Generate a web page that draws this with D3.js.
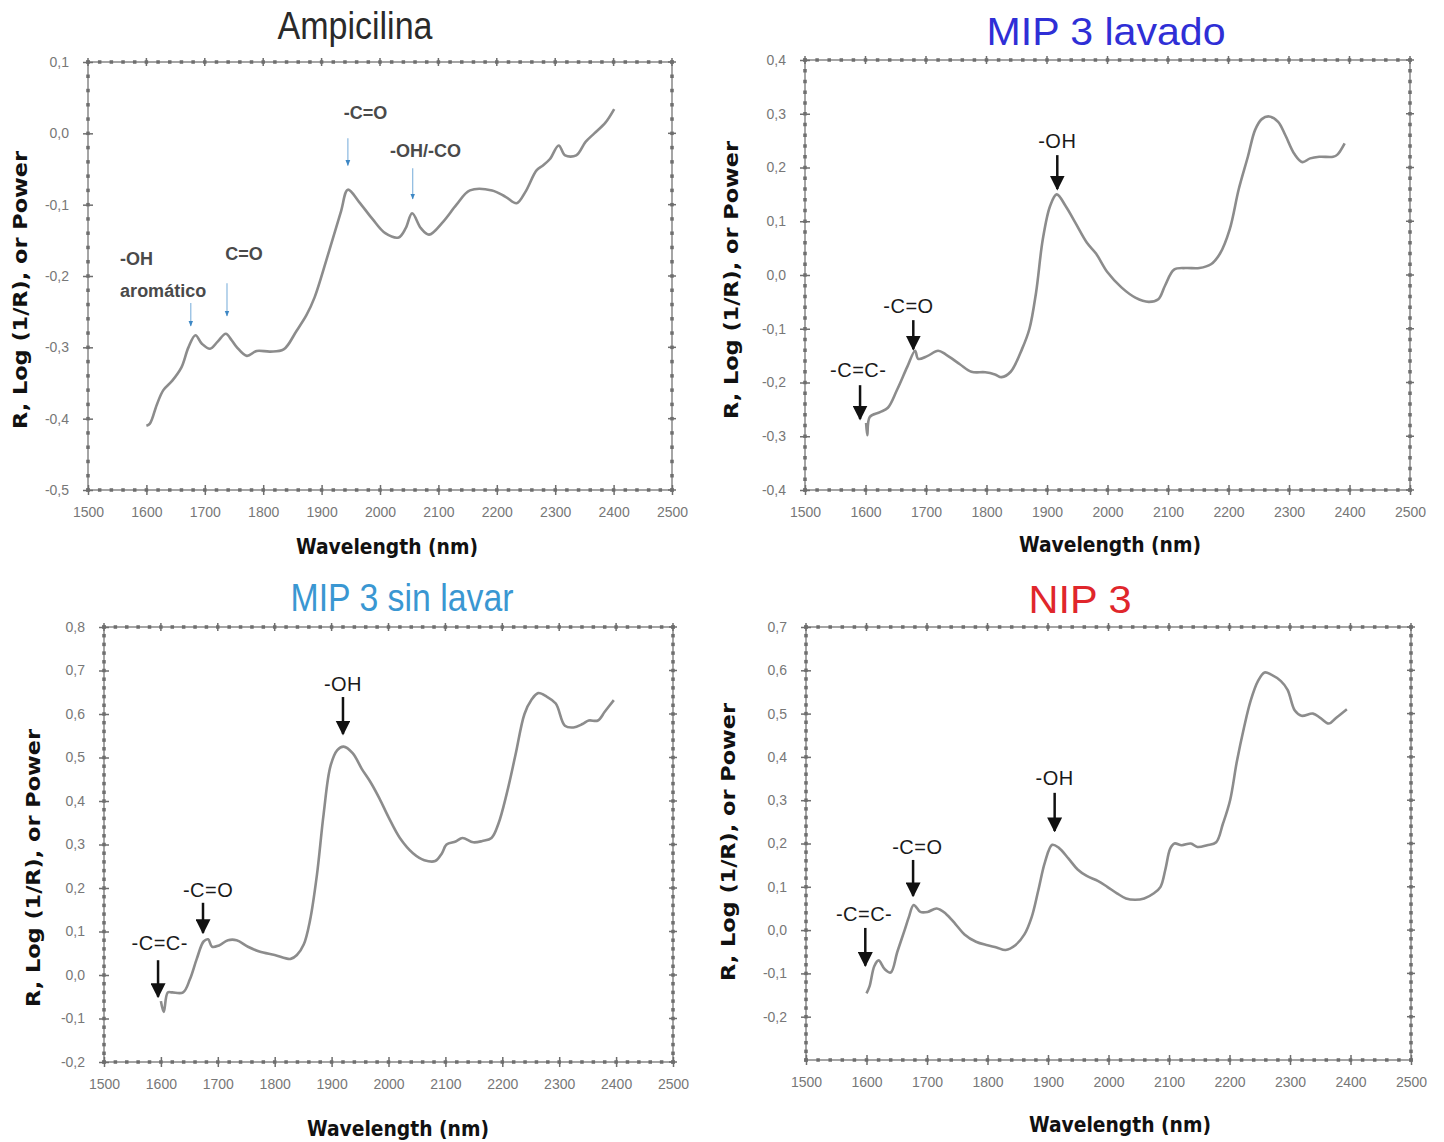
<!DOCTYPE html>
<html>
<head>
<meta charset="utf-8">
<script src="https://cdn.jsdelivr.net/npm/d3@7"></script>
<style>
  body { margin: 0; background: #fff; }
  svg { display: block; }
</style>
</head>
<body>
<svg id="chart"></svg>
<script>
// wavelength ticks shared by the four spectra
const xTicks = d3.range(1500, 2501, 100);

// spectra: [wavelength (nm), value]
const ampicilina = [
  [1600,-0.41],[1606,-0.407],[1618,-0.38],[1629,-0.36],[1644,-0.347],[1660,-0.328],[1672,-0.30],
  [1684,-0.283],[1695,-0.295],[1709,-0.302],[1722,-0.292],[1736,-0.281],[1746,-0.29],[1755,-0.30],
  [1772,-0.312],[1789,-0.305],[1812,-0.306],[1835,-0.303],[1857,-0.277],[1874,-0.255],[1888,-0.23],
  [1911,-0.17],[1933,-0.11],[1945,-0.079],[1964,-0.096],[1987,-0.12],[2009,-0.14],[2032,-0.146],
  [2044,-0.133],[2055,-0.112],[2070,-0.133],[2084,-0.142],[2108,-0.124],[2131,-0.10],[2154,-0.08],
  [2192,-0.08],[2215,-0.089],[2234,-0.098],[2249,-0.082],[2268,-0.052],[2279,-0.045],[2291,-0.036],
  [2306,-0.017],[2317,-0.031],[2336,-0.031],[2352,-0.012],[2367,0.0],[2386,0.015],[2401,0.034]
];
const mip3Lavado = [
  [1601,-0.275],[1603,-0.298],[1607,-0.264],[1624,-0.255],[1637,-0.247],[1652,-0.214],[1669,-0.171],
  [1682,-0.141],[1687,-0.156],[1702,-0.151],[1720,-0.141],[1733,-0.148],[1756,-0.166],[1775,-0.18],
  [1798,-0.181],[1814,-0.185],[1825,-0.19],[1840,-0.18],[1859,-0.137],[1871,-0.10],[1882,-0.032],
  [1893,0.066],[1905,0.128],[1916,0.15],[1931,0.128],[1947,0.097],[1966,0.06],[1981,0.04],
  [2000,0.005],[2023,-0.023],[2046,-0.042],[2068,-0.05],[2084,-0.045],[2095,-0.02],[2110,0.01],
  [2129,0.013],[2152,0.013],[2171,0.02],[2186,0.04],[2202,0.085],[2217,0.16],[2232,0.22],
  [2244,0.27],[2255,0.29],[2267,0.295],[2282,0.285],[2294,0.26],[2309,0.225],[2322,0.21],
  [2335,0.217],[2350,0.22],[2373,0.22],[2380,0.224],[2392,0.245]
];
const mip3SinLavar = [
  [1600,-0.06],[1605,-0.085],[1612,-0.04],[1620,-0.04],[1639,-0.04],[1651,-0.01],[1663,0.037],
  [1675,0.077],[1683,0.082],[1690,0.065],[1702,0.068],[1718,0.08],[1733,0.08],[1753,0.065],
  [1773,0.054],[1800,0.046],[1828,0.037],[1839,0.046],[1851,0.07],[1862,0.125],[1874,0.228],
  [1886,0.37],[1898,0.48],[1910,0.517],[1921,0.525],[1937,0.51],[1953,0.474],[1969,0.442],
  [1984,0.406],[2000,0.363],[2020,0.315],[2043,0.28],[2063,0.264],[2082,0.262],[2094,0.28],
  [2102,0.30],[2118,0.307],[2130,0.315],[2149,0.305],[2165,0.308],[2181,0.315],[2193,0.347],
  [2208,0.418],[2223,0.505],[2239,0.6],[2251,0.632],[2263,0.648],[2278,0.64],[2294,0.624],
  [2310,0.573],[2325,0.569],[2341,0.577],[2352,0.585],[2368,0.585],[2380,0.605],[2396,0.632]
];
const nip3 = [
  [1600,-0.146],[1605,-0.13],[1613,-0.083],[1620,-0.07],[1630,-0.09],[1640,-0.098],[1651,-0.05],
  [1663,0.0],[1670,0.03],[1678,0.058],[1689,0.042],[1701,0.042],[1716,0.05],[1731,0.038],
  [1747,0.014],[1762,-0.01],[1781,-0.027],[1800,-0.035],[1815,-0.04],[1830,-0.046],[1846,-0.035],
  [1861,-0.01],[1873,0.03],[1884,0.092],[1895,0.157],[1907,0.197],[1918,0.19],[1934,0.165],
  [1949,0.14],[1964,0.125],[1983,0.113],[1998,0.10],[2014,0.085],[2029,0.073],[2044,0.07],
  [2059,0.073],[2075,0.085],[2086,0.10],[2094,0.14],[2102,0.188],[2109,0.20],[2121,0.196],
  [2136,0.2],[2147,0.192],[2163,0.196],[2178,0.203],[2189,0.245],[2201,0.30],[2212,0.388],
  [2224,0.468],[2235,0.53],[2247,0.575],[2258,0.595],[2269,0.59],[2285,0.575],[2296,0.555],
  [2308,0.507],[2319,0.495],[2338,0.5],[2350,0.49],[2364,0.477],[2376,0.49],[2394,0.51]
];

// y tick labels per panel
const ampTicks = [-0.5, -0.4, -0.3, -0.2, -0.1, 0.0, 0.1];
const lavadoTicks = [-0.4, -0.3, -0.2, -0.1, 0.0, 0.1, 0.2, 0.3, 0.4];
const sinLavarTicks = [-0.2, -0.1, 0.0, 0.1, 0.2, 0.3, 0.4, 0.5, 0.6, 0.7, 0.8];
const nipTicks = [-0.2, -0.1, 0.0, 0.1, 0.2, 0.3, 0.4, 0.5, 0.6, 0.7];

// band annotations: label lines, text anchor (nm, value), arrow at nm from top to bottom value
const ampNotes = [
  { lines: ["-OH", "aromático"], tx: 1555, ty: -0.176, ax: 1676, top: -0.238, bottom: -0.27, anchor: "start" },
  { lines: ["C=O"], tx: 1735, ty: -0.169, ax: 1738, top: -0.21, bottom: -0.256, anchor: "start" },
  { lines: ["-C=O"], tx: 1938, ty: 0.028, ax: 1945, top: -0.007, bottom: -0.045, anchor: "start" },
  { lines: ["-OH/-CO"], tx: 2017, ty: -0.025, ax: 2056, top: -0.049, bottom: -0.092, anchor: "start" }
];
const lavadoNotes = [
  { lines: ["-C=C-"], tx: 1588, ty: -0.177, ax: 1591, top: -0.205, bottom: -0.268 },
  { lines: ["-C=O"], tx: 1671, ty: -0.058, ax: 1679, top: -0.084, bottom: -0.138 },
  { lines: ["-OH"], tx: 1917, ty: 0.249, ax: 1917, top: 0.223, bottom: 0.16 }
];
const sinLavarNotes = [
  { lines: ["-C=C-"], tx: 1598, ty: 0.074, ax: 1595, top: 0.034, bottom: -0.05 },
  { lines: ["-C=O"], tx: 1683, ty: 0.195, ax: 1674, top: 0.166, bottom: 0.097 },
  { lines: ["-OH"], tx: 1920, ty: 0.669, ax: 1920, top: 0.639, bottom: 0.554 }
];
const nipNotes = [
  { lines: ["-C=C-"], tx: 1596, ty: 0.037, ax: 1598, top: 0.005, bottom: -0.082 },
  { lines: ["-C=O"], tx: 1684, ty: 0.192, ax: 1677, top: 0.162, bottom: 0.079 },
  { lines: ["-OH"], tx: 1911, ty: 0.351, ax: 1911, top: 0.317, bottom: 0.229 }
];

const W = 1444, H = 1142;
const svg = d3.select("#chart").attr("width", W).attr("height", H);

const defs = svg.append("defs");
defs.append("marker")
  .attr("id", "headBlack")
  .attr("viewBox", "0 0 10 10")
  .attr("refX", 9).attr("refY", 5)
  .attr("markerWidth", 6).attr("markerHeight", 6)
  .attr("markerUnits", "strokeWidth")
  .attr("orient", "auto")
  .append("path").attr("d", "M0,0 L10,5 L0,10 Z").attr("fill", "#111");
defs.append("marker")
  .attr("id", "headBlue")
  .attr("viewBox", "0 0 10 10")
  .attr("refX", 9).attr("refY", 5)
  .attr("markerWidth", 5).attr("markerHeight", 5)
  .attr("markerUnits", "strokeWidth")
  .attr("orient", "auto")
  .append("path").attr("d", "M0,1 L10,5 L0,9 Z").attr("fill", "#3d87c4");

const panels = [
  { title: "Ampicilina", titleColor: "#2a2a2a", titleX: 355, titleY: 26, titleLen: 155,
    data: ampicilina, yTicks: ampTicks, yDomain: [-0.5, 0.1], notes: ampNotes, blue: true,
    left: 88, right: 672, top: 62, bottom: 490,
    ylabX: 20, ylabY: 290, xlabX: 387, xlabY: 546 },
  { title: "MIP 3 lavado", titleColor: "#2f2fd6", titleX: 1106, titleY: 32, titleLen: 239,
    data: mip3Lavado, yTicks: lavadoTicks, yDomain: [-0.4, 0.4], notes: lavadoNotes,
    left: 805, right: 1410, top: 60, bottom: 490,
    ylabX: 731, ylabY: 280, xlabX: 1110, xlabY: 544 },
  { title: "MIP 3 sin lavar", titleColor: "#3a97d2", titleX: 402, titleY: 598, titleLen: 223,
    data: mip3SinLavar, yTicks: sinLavarTicks, yDomain: [-0.2, 0.8], notes: sinLavarNotes,
    left: 104, right: 673, top: 627, bottom: 1062,
    ylabX: 33, ylabY: 868, xlabX: 398, xlabY: 1128 },
  { title: "NIP 3", titleColor: "#e0262b", titleX: 1080, titleY: 600, titleLen: 103,
    data: nip3, yTicks: nipTicks, yDomain: [-0.3, 0.7], notes: nipNotes,
    left: 806, right: 1411, top: 627, bottom: 1060,
    ylabX: 728, ylabY: 842, xlabX: 1120, xlabY: 1124 }
];

const fmt = v => d3.format(".1f")(v).replace(".", ",").replace("−", "-");

panels.forEach(p => {
  const x = d3.scaleLinear().domain([1500, 2500]).range([p.left, p.right]);
  const y = d3.scaleLinear().domain(p.yDomain).range([p.bottom, p.top]);
  const g = svg.append("g");

  // title
  g.append("text")
    .attr("x", p.titleX).attr("y", p.titleY)
    .attr("text-anchor", "middle").attr("dominant-baseline", "central")
    .attr("font-family", "Liberation Sans, Arial, sans-serif")
    .attr("font-size", 38)
    .attr("textLength", p.titleLen).attr("lengthAdjust", "spacingAndGlyphs")
    .attr("fill", p.titleColor)
    .text(p.title);

  // frame with dotted minor ticks
  g.append("rect")
    .attr("x", p.left).attr("y", p.top)
    .attr("width", p.right - p.left).attr("height", p.bottom - p.top)
    .attr("fill", "none").attr("stroke", "#8f8f8f").attr("stroke-width", 1.6);

  const xMinor = d3.range(1500, 2501, 20);
  const yStep = 0.02;
  const yMinor = d3.range(Math.round((p.yDomain[1] - p.yDomain[0]) / yStep) + 1)
    .map(i => p.yDomain[0] + i * yStep);

  [p.top, p.bottom].forEach(edge => {
    g.selectAll(null).data(xMinor).join("rect")
      .attr("x", d => x(d) - 1.75).attr("y", edge - 1.75)
      .attr("width", 3.5).attr("height", 3.5).attr("fill", "#6e6e6e");
  });
  [p.left, p.right].forEach(edge => {
    g.selectAll(null).data(yMinor).join("rect")
      .attr("x", edge - 1.75).attr("y", d => y(d) - 1.75)
      .attr("width", 3.5).attr("height", 3.5).attr("fill", "#6e6e6e");
  });

  // bottom axis with major ticks
  const xAxis = g.append("g")
    .attr("transform", `translate(0,${p.bottom})`)
    .call(d3.axisBottom(x).tickValues(xTicks).tickSize(5).tickPadding(12).tickFormat(d3.format("d")));
  xAxis.select(".domain").remove();
  xAxis.selectAll(".tick line").attr("y1", -5).attr("stroke", "#6e6e6e").attr("stroke-width", 1.5);
  xAxis.selectAll(".tick text")
    .attr("fill", "#777").attr("font-size", 14)
    .attr("font-family", "Liberation Sans Narrow, Arial Narrow, sans-serif");

  // top major ticks
  g.selectAll(null).data(xTicks).join("line")
    .attr("x1", d => x(d)).attr("x2", d => x(d))
    .attr("y1", p.top - 4).attr("y2", p.top + 4)
    .attr("stroke", "#6e6e6e").attr("stroke-width", 1.5);

  // left axis with major ticks
  const yAxis = g.append("g")
    .attr("transform", `translate(${p.left},0)`)
    .call(d3.axisLeft(y).tickValues(p.yTicks).tickSize(5).tickPadding(14).tickFormat(fmt));
  yAxis.select(".domain").remove();
  yAxis.selectAll(".tick line").attr("x1", 5).attr("stroke", "#6e6e6e").attr("stroke-width", 1.5);
  yAxis.selectAll(".tick text")
    .attr("fill", "#777").attr("font-size", 14)
    .attr("font-family", "Liberation Sans Narrow, Arial Narrow, sans-serif");

  // right major ticks
  g.selectAll(null).data(p.yTicks).join("line")
    .attr("x1", p.right - 4).attr("x2", p.right + 4)
    .attr("y1", d => y(d)).attr("y2", d => y(d))
    .attr("stroke", "#6e6e6e").attr("stroke-width", 1.5);

  // axis titles
  g.append("text")
    .attr("x", p.xlabX).attr("y", p.xlabY)
    .attr("text-anchor", "middle").attr("dominant-baseline", "central")
    .attr("font-family", "DejaVu Sans Condensed, DejaVu Sans, sans-serif")
    .attr("font-weight", "bold").attr("font-size", 22)
    .attr("textLength", 182).attr("lengthAdjust", "spacingAndGlyphs")
    .attr("fill", "#111")
    .text("Wavelength (nm)");
  g.append("text")
    .attr("transform", `translate(${p.ylabX},${p.ylabY}) rotate(-90)`)
    .attr("text-anchor", "middle").attr("dominant-baseline", "central")
    .attr("font-family", "DejaVu Sans, sans-serif")
    .attr("font-weight", "bold").attr("font-size", 19)
    .attr("textLength", 278).attr("lengthAdjust", "spacingAndGlyphs")
    .attr("fill", "#111")
    .text("R, Log (1/R), or Power");

  // spectrum
  const line = d3.line()
    .x(d => x(d[0])).y(d => y(d[1]))
    .curve(d3.curveCatmullRom.alpha(0.5));
  g.append("path")
    .datum(p.data)
    .attr("d", line)
    .attr("fill", "none")
    .attr("stroke", "#8c8c8c")
    .attr("stroke-width", 2.6)
    .attr("stroke-linejoin", "round");

  // band annotations
  p.notes.forEach(n => {
    const t = g.append("text")
      .attr("x", x(n.tx)).attr("y", y(n.ty))
      .attr("text-anchor", n.anchor || "middle")
      .attr("dominant-baseline", "central")
      .attr("font-family", "Liberation Sans, Arial, sans-serif")
      .attr("font-size", p.blue ? 18 : 20)
      .attr("letter-spacing", p.blue ? 0 : 0.5)
      .attr("fill", p.blue ? "#4a4a4a" : "#1a1a1a")
      .attr("font-weight", p.blue ? "bold" : "normal");
    n.lines.forEach((l, i) => {
      t.append("tspan").attr("x", x(n.tx)).attr("dy", i === 0 ? 0 : 32).text(l);
    });
    g.append("line")
      .attr("x1", x(n.ax)).attr("x2", x(n.ax))
      .attr("y1", y(n.top)).attr("y2", y(n.bottom))
      .attr("stroke", p.blue ? "#8ab8df" : "#111")
      .attr("stroke-width", p.blue ? 1.2 : 2.5)
      .attr("marker-end", p.blue ? "url(#headBlue)" : "url(#headBlack)");
  });
});
</script>
</body>
</html>
